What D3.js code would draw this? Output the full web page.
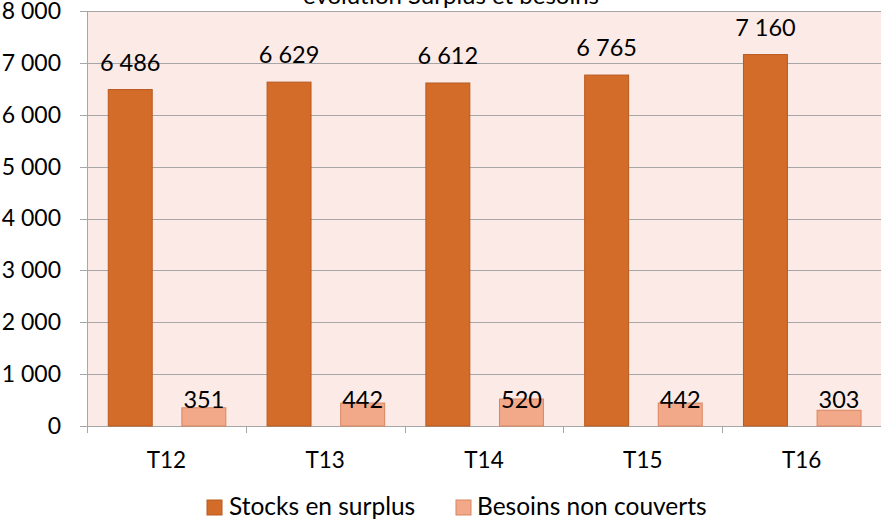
<!DOCTYPE html>
<html><head><meta charset="utf-8">
<script src="https://cdn.jsdelivr.net/npm/d3@7"></script>
<style>body{margin:0;background:#fff}svg{display:block}</style>
</head><body>
<script>
const categories = ["T12","T13","T14","T15","T16"];
const stocks = [6486, 6629, 6612, 6765, 7160];
const besoins = [351, 442, 520, 442, 303];
const yTicks = [0,1000,2000,3000,4000,5000,6000,7000,8000];
const seriesNames = ["Stocks en surplus","Besoins non couverts"];
const colors = ["#D36C29","#F2A98A"];
const strokes = ["#B85A20","#D98660"];

const W = 881, H = 519;
const font = "Lato, 'Open Sans', sans-serif";
const fmt = v => d3.format(",")(v).replace(/,/g, " ");
const svg = d3.select("body").append("svg").attr("width", W).attr("height", H);

const L = 87, R = 881, T = 11, B = 426;
const x = d3.scaleBand().domain(categories).range([L, R]).paddingInner(0).paddingOuter(0);
const y = d3.scaleLinear().domain([0, 8000]).range([B, T]);

svg.append("rect").attr("x", L).attr("y", T).attr("width", R - L).attr("height", B - T).attr("fill", "#FBEAE5");

// gridlines
svg.append("g").selectAll("line").data(yTicks).join("line")
  .attr("x1", L - 7).attr("x2", R).attr("y1", d => Math.round(y(d)) + 0.5).attr("y2", d => Math.round(y(d)) + 0.5)
  .attr("stroke", "#A6A6A6").attr("stroke-width", 1);

// y axis
const yAxis = d3.axisLeft(y).tickValues(yTicks).tickFormat(fmt).tickSize(0).tickPadding(26);
const gy = svg.append("g").attr("transform", `translate(${L},0)`).call(yAxis);
gy.select(".domain").remove();
gy.selectAll("text").attr("font-family", font).attr("font-size", 23).attr("fill", "#000");
svg.append("line").attr("x1", L + 0.5).attr("x2", L + 0.5).attr("y1", T).attr("y2", B + 7).attr("stroke", "#A6A6A6");

// x axis
const xAxis = d3.axisBottom(x).tickSize(0).tickPadding(26);
const gx = svg.append("g").attr("transform", `translate(0,${B})`).call(xAxis);
gx.select(".domain").remove();
gx.selectAll("text").attr("font-family", font).attr("font-size", 22.5).attr("fill", "#000");
svg.append("g").selectAll("line").data(categories.slice(1)).join("line")
  .attr("x1", d => Math.round(x(d)) + 0.5).attr("x2", d => Math.round(x(d)) + 0.5)
  .attr("y1", B).attr("y2", B + 7).attr("stroke", "#A6A6A6");

const bw = x.bandwidth();
const barW = bw * 44 / 159;
const off = [bw * 21.3 / 159, bw * 95 / 159];
const data = [stocks, besoins];

data.forEach((vals, s) => {
  svg.append("g").selectAll("rect").data(vals).join("rect")
    .attr("x", (d, i) => x(categories[i]) + off[s])
    .attr("y", d => y(d)).attr("width", barW).attr("height", d => B - y(d))
    .attr("fill", colors[s]).attr("stroke", strokes[s]).attr("stroke-width", 1);
  svg.append("g").selectAll("text").data(vals).join("text")
    .attr("x", (d, i) => x(categories[i]) + off[s] + barW / 2)
    .attr("y", d => s === 0 ? y(d) - 19 : B - 18)
    .attr("text-anchor", "middle").attr("font-family", font).attr("font-size", 23.5).attr("fill", "#000")
    .text(d => fmt(d));
});

// title
svg.append("text").attr("x", 451).attr("y", 4).attr("text-anchor", "middle")
  .attr("font-family", font).attr("font-size", 24).attr("fill", "#000").text("evolution Surplus et besoins");

// legend
const leg = [{x: 207, tx: 229}, {x: 456, tx: 477}];
seriesNames.forEach((n, i) => {
  svg.append("rect").attr("x", leg[i].x).attr("y", 500).attr("width", 15).attr("height", 15)
    .attr("fill", colors[i]).attr("stroke", strokes[i]);
  svg.append("text").attr("x", leg[i].tx).attr("y", 515).attr("font-family", font).attr("font-size", 24.5)
    .attr("fill", "#000").text(n);
});
</script>
</body></html>
